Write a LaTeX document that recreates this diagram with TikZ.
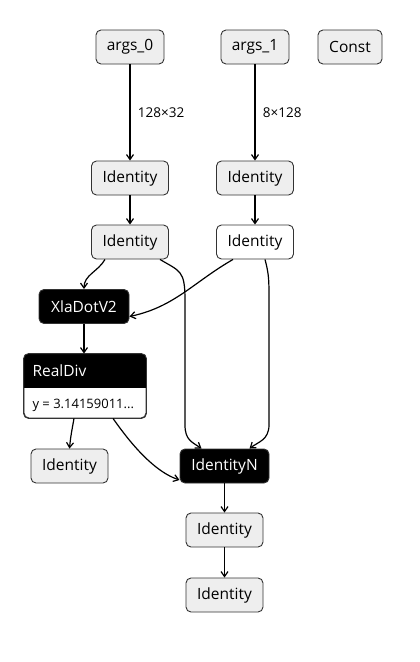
\documentclass[tikz,border=0pt]{standalone}
\usepackage{fontspec}
\setmainfont{Open Sans}
\usepackage{tikz}
\usetikzlibrary{arrows.meta, positioning, calc}
\definecolor{cB}{RGB}{51,51,51}
\definecolor{cG}{RGB}{238,238,238}

\begin{document}
\begin{tikzpicture}[x=1pt, y=-1pt, >={Straight Barb[length=5pt,width=7pt]},
                    every edge/.style={draw=black, line width=1.2pt},
                    opnode/.style={draw=cB, line width=0.9pt, rounded corners=5pt,
                                   fill=cG, minimum height=34pt, inner sep=0pt,
                                   font=\fontsize{15.5}{17}\selectfont},
                    blacknode/.style={opnode, fill=black, text=white},
                    shape lbl/.style={font=\fontsize{13.5}{15}\selectfont, anchor=west}]
    \useasboundingbox (0,0) rectangle (420,662);

    % Inputs
    \node[opnode, minimum width=68pt] (a0) at (130,47) {args\_0};
    \node[opnode, minimum width=68pt] (a1) at (255,47) {args\_1};
    \node[opnode, minimum width=64pt] (cst) at (350,47) {Const};

    % Identity chains
    \node[opnode, minimum width=77pt] (idA) at (130,178) {Identity};
    \node[opnode, minimum width=77pt] (idB) at (255,178) {Identity};
    \node[opnode, minimum width=77pt] (idC) at (130,242) {Identity};
    \node[opnode, minimum width=77pt, fill=white] (idD) at (255,242) {Identity};

    % Operations
    \node[blacknode, minimum width=90pt] (dot) at (84,306.5) {XlaDotV2};
    \node[opnode, fill=white, minimum width=122pt, minimum height=64pt] (div) at (85,386) {};
    \begin{scope}
        \clip[rounded corners=5pt] (div.north west) rectangle (div.south east);
        \fill[black] (div.north west) rectangle ($(div.east)+(0,2)$);
    \end{scope}
    \draw[cB, line width=0.9pt, rounded corners=5pt] (div.north west) rectangle (div.south east);
    \node[anchor=west, text=white, font=\fontsize{15.5}{17}\selectfont] (divtxt) at (29,371) {RealDiv};
    \node[anchor=west, font=\fontsize{13}{15}\selectfont] (divattr) at (29,405) {y = 3.14159011...};

    \node[opnode, minimum width=77pt] (idE) at (69.5,466) {Identity};
    \node[blacknode, minimum width=89pt] (idn) at (224.5,466) {IdentityN};
    \node[opnode, minimum width=77pt] (idF) at (224.5,530) {Identity};
    \node[opnode, minimum width=77pt] (idG) at (224.5,595) {Identity};

    % Connections
    \path[->]
    (a0) edge node[shape lbl, xshift=4pt] {128×32} (idA)
    (a1) edge node[shape lbl, xshift=4pt] {8×128} (idB)
    (idA) edge (idC)
    (idB) edge (idD)
    ([xshift=-25pt]idC.south) edge[out=240, in=90] (dot.north)
    ([xshift=-22pt]idD.south) edge[out=-150, in=12] ([yshift=-10pt]dot.east)
    ([xshift=30pt]idC.south) edge[to path={.. controls +(20,12) and (185,270) .. (185,300)
                                  -- (185,425) .. controls (185,440) and (192,442) .. (\tikztotarget)}]
         ([xshift=-23pt]idn.north)
    ([xshift=10pt]idD.south) edge[to path={.. controls +(4,15) and (269,280) .. (269,300)
                                  -- (269,425) .. controls (269,440) and (258,442) .. (\tikztotarget)}]
         ([xshift=25pt]idn.north)
    (dot) edge ([xshift=-1pt]div.north)
    ([xshift=-11pt]div.south) edge[out=-100, in=85] (idE.north)
    ([xshift=28pt]div.south) edge[to path={.. controls +(10,14) and +(-30,-10) .. (\tikztotarget)}]
         ([yshift=-14pt]idn.west)
    (idn) edge (idF)
    (idF) edge (idG);

\end{tikzpicture}
\end{document}
